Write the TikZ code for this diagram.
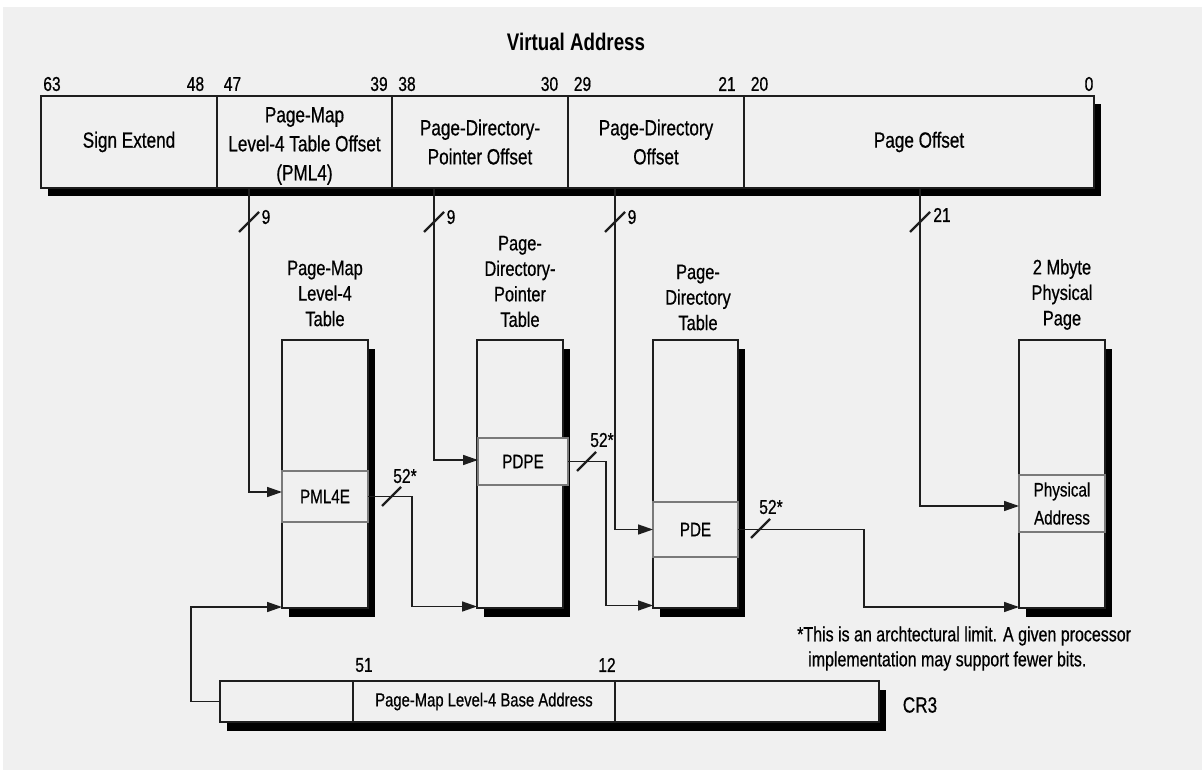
\documentclass[tikz,border=0pt]{standalone}
\usepackage{fontspec}
\setmainfont{Liberation Sans}[FakeStretch=0.78,UprightFeatures={FakeBold=0.6}]
\usetikzlibrary{arrows.meta,shadows}
\definecolor{bgc}{HTML}{F0F0F0}
\definecolor{entc}{HTML}{7A7A7A}
\definecolor{inkc}{HTML}{1E1E1E}
\begin{document}
\begin{tikzpicture}[x=1pt,y=-1pt,
  shadowed/.style={draw=inkc,line width=1.6pt,fill=bgc,inner sep=0pt,outer sep=0pt,
    general shadow={fill=black,shadow xshift=6.5pt,shadow yshift=-8.5pt}},
  field/.style={draw=inkc,line width=1.6pt,inner sep=0pt,outer sep=0pt,align=center,
    font=\fontsize{22}{29}\selectfont},
  entry/.style={draw=entc,line width=2pt,fill=bgc,inner sep=0pt,outer sep=0pt,align=center,
    font=\fontsize{19.5}{28}\selectfont},
  tlabel/.style={align=center,inner sep=0pt,font=\fontsize{21}{25.5}\selectfont},
  num/.style={inner sep=0pt,font=\fontsize{20}{24}\selectfont},
  foot/.style={inner sep=0pt,font=\fontsize{20.5}{25}\selectfont},
  conn/.style={draw=inkc,line width=1.5pt,-{Triangle[length=15pt,width=10pt]}},
  plain/.style={draw=inkc,line width=1.5pt},
  slashmark/.style={draw=inkc,line width=2.4pt}]
\useasboundingbox (0,0) rectangle (1202,770);
\fill[white] (0,0) rectangle (1202,770);
\fill[bgc] (3,7) rectangle (1202,770);

% title
\node[inner sep=0pt,font=\fontsize{24}{28}\selectfont\bfseries] (title) at (576,42) {Virtual Address};

% virtual address register
\node[shadowed,minimum width=1053pt,minimum height=92pt] (va) at (567.5,142) {};
\node[field,minimum width=176pt,minimum height=92pt] (f1) at (129,142) {Sign Extend};
\node[field,minimum width=175pt,minimum height=92pt] (f2) at (304.5,142) {};
\node[field,inner sep=0pt,draw=none] (f2t) at (304.5,146) {Page-Map\\Level-4 Table Offset\\(PML4)};
\node[field,minimum width=176pt,minimum height=92pt] (f3) at (480,142) {Page-Directory-\\Pointer Offset};
\node[field,minimum width=176pt,minimum height=92pt] (f4) at (656,142) {Page-Directory\\Offset};
\node[field,minimum width=350pt,minimum height=92pt] (f5) at (919,142) {Page Offset};

% bit numbers
\node[num] (b63) at (52,84) {63};
\node[num] (b48) at (195.5,84) {48};
\node[num] (b47) at (232.5,84) {47};
\node[num] (b39) at (379,84) {39};
\node[num] (b38) at (407,84) {38};
\node[num] (b30) at (549.5,84) {30};
\node[num] (b29) at (582.5,84) {29};
\node[num] (b21) at (727,84) {21};
\node[num] (b20) at (759.5,84) {20};
\node[num] (b0) at (1089,84) {0};

% tables
\node[shadowed,minimum width=86pt,minimum height=268pt] (pml4t) at (325,474) {};
\node[shadowed,minimum width=86pt,minimum height=268pt] (pdpt) at (520,474) {};
\node[shadowed,minimum width=85pt,minimum height=268pt] (pdt) at (695.5,474) {};
\node[shadowed,minimum width=86pt,minimum height=268pt] (phys) at (1062,474) {};

\node[tlabel] (l1) at (325,293.5) {Page-Map\\Level-4\\Table};
\node[tlabel] (l2) at (520,281.5) {Page-\\Directory-\\Pointer\\Table};
\node[tlabel] (l3) at (698,297.5) {Page-\\Directory\\Table};
\node[tlabel] (l4) at (1062,294.5) {2 Mbyte\\Physical\\Page};

% entries
\node[entry,minimum width=86pt,minimum height=51pt] (pml4e) at (325,496.5) {PML4E};
\node[entry,minimum width=90pt,minimum height=47pt] (pdpe) at (523,461.5) {PDPE};
\node[entry,minimum width=85pt,minimum height=55pt] (pde) at (695.5,529.5) {PDE};
\node[entry,minimum width=86pt,minimum height=57pt] (pa) at (1062,503.5) {Physical\\Address};

% CR3 register
\node[shadowed,minimum width=659pt,minimum height=41pt] (cr3) at (549.5,701.5) {};
\node[field,minimum width=133pt,minimum height=41pt] (c1) at (286.5,701.5) {};
\node[field,minimum width=262pt,minimum height=41pt,font=\fontsize{19}{24}\selectfont] (c2) at (484,701.5) {Page-Map Level-4 Base Address};
\node[field,minimum width=264pt,minimum height=41pt] (c3) at (747,701.5) {};
\node[num] (b51) at (364,665) {51};
\node[num] (b12) at (607,665) {12};
\node[inner sep=0pt,font=\fontsize{22}{26}\selectfont] (cr3l) at (920,705) {CR3};

% footnote
\node[foot,anchor=west] (fn1) at (797,636) {*This is an archtectural limit. A given processor};
\node[foot,anchor=west] (fn2) at (808,661) {implementation may support fewer bits.};

% helper coordinates
\coordinate (x1) at (249,0);
\coordinate (x2) at (434,0);
\coordinate (x3) at (615,0);
\coordinate (x4) at (920,0);
\coordinate (k1) at (412,0);
\coordinate (k2) at (606,0);
\coordinate (k3) at (864,0);
\coordinate (k4) at (191,0);
\coordinate (e1) at ([yshift=1.5pt]pdpt.south west);
\coordinate (e2) at ([yshift=2.5pt]pdt.south west);
\coordinate (e3) at ([yshift=1pt]phys.south west);
\coordinate (e4) at ([yshift=1pt]pml4t.south west);

% index connectors
\draw[conn] (va.south -| x1) |- ([yshift=4.5pt]pml4e.west);
\draw[conn] (va.south -| x2) |- ([yshift=1.5pt]pdpe.west);
\draw[conn] (va.south -| x3) |- (pde.west);
\draw[conn] (va.south -| x4) |- ([yshift=-2.5pt]pa.west);

\draw[slashmark] (239,232) -- (259,212);
\draw[slashmark] (424,232) -- (444,212);
\draw[slashmark] (605,232) -- (625,212);
\draw[slashmark] (910,232) -- (930,212);
\node[num] (n1) at (266,217) {9};
\node[num] (n2) at (451,217) {9};
\node[num] (n3) at (632,217) {9};
\node[num] (n4) at (942,215) {21};

% pointer connectors
\draw[conn] (pml4e.east) -| (k1 |- e1) -- (e1);
\draw[conn] (pdpe.east) -| (k2 |- e2) -- (e2);
\draw[conn] (pde.east) -| (k3 |- e3) -- (e3);
\draw[conn] (cr3.west) -| (k4 |- e4) -- (e4);

\draw[slashmark] (382,506) -- (401,487);
\draw[slashmark] (577,471) -- (596,452);
\draw[slashmark] (751,538) -- (770,519);
\node[num] (m1) at (405,476) {52*};
\node[num] (m2) at (602,440) {52*};
\node[num] (m3) at (771,507) {52*};
\end{tikzpicture}
\end{document}
